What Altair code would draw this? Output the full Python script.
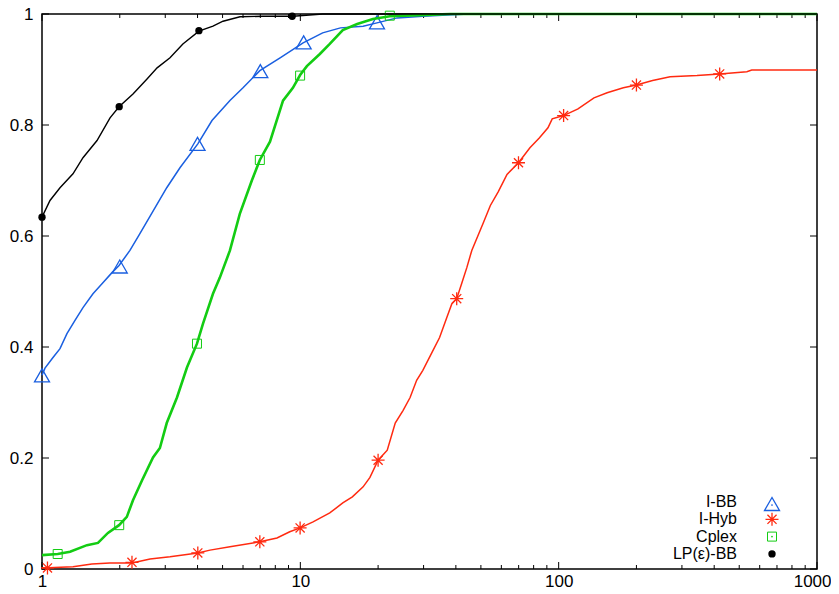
import altair as alt
import pandas as pd

# ---------------- data ----------------
ibb_x = [1.0, 1.027, 1.103, 1.174, 1.249, 1.342, 1.441, 1.575, 1.707, 1.866, 1.987, 2.19, 2.39,
         2.74, 3.04, 3.42, 4.01, 4.55, 5.34, 6.0, 6.97, 8.35, 10.25, 12.2, 14.3, 17.5, 19.8,
         23.7, 29.8, 37.0, 45.0, 1000.0]
ibb_y = [0.349, 0.362, 0.381, 0.397, 0.424, 0.448, 0.471, 0.496, 0.514, 0.534, 0.547, 0.574, 0.604,
         0.651, 0.687, 0.723, 0.766, 0.808, 0.844, 0.867, 0.898, 0.921, 0.948, 0.966, 0.975, 0.978, 0.984,
         0.993, 0.996, 0.998, 1.0, 1.0]
ibb_mx = [1.0, 2.0, 4.0, 7.0, 10.3, 19.8]
ibb_my = [0.349, 0.545, 0.766, 0.897, 0.949, 0.985]

hyb_x = [1.0, 1.318, 1.56, 1.83, 2.23, 2.62, 3.13, 4.01, 4.47, 5.34, 6.97, 8.12, 9.10, 9.98, 11.2,
         13.0, 14.6, 15.9, 17.5, 18.6, 20.0, 21.7, 23.3, 25.0, 26.6, 28.2, 29.8, 32.3, 34.6, 36.9,
         38.6, 40.3, 42.1, 44.1, 46.1, 51.1, 54.4, 58.4, 63.1, 69.9, 77.4, 84.3, 90.9, 94.4, 104.5,
         118.8, 137.0, 154.0, 178.0, 200.0, 231.0, 270.0, 343.0, 420.0, 535.0, 559.0, 1000.0]
hyb_y = [0.002, 0.004, 0.009, 0.011, 0.011, 0.018, 0.022, 0.029, 0.034, 0.040, 0.049, 0.056, 0.067,
         0.074, 0.085, 0.101, 0.119, 0.130, 0.148, 0.165, 0.196, 0.214, 0.263, 0.286, 0.309, 0.340,
         0.358, 0.390, 0.417, 0.453, 0.478, 0.487, 0.514, 0.543, 0.574, 0.624, 0.655, 0.680, 0.711,
         0.732, 0.759, 0.777, 0.795, 0.811, 0.817, 0.829, 0.849, 0.858, 0.867, 0.872, 0.880, 0.887,
         0.889, 0.892, 0.896, 0.899, 0.899]
hyb_mx = [1.05, 2.23, 4.01, 6.97, 9.98, 20.0, 40.3, 69.9, 104.5, 200.0, 420.0]
hyb_my = [0.002, 0.012, 0.029, 0.049, 0.074, 0.196, 0.487, 0.732, 0.817, 0.872, 0.892]

cpx_x = [1.0, 1.15, 1.284, 1.493, 1.647, 1.80, 1.987, 2.13, 2.25, 2.44, 2.69, 2.86, 3.04, 3.33,
         3.64, 3.98, 4.20, 4.59, 4.88, 5.34, 5.83, 6.49, 6.97, 7.63, 8.57, 9.36, 9.98, 10.6, 11.9,
         13.0, 14.6, 16.6, 19.1, 22.2, 30.9, 38.0, 1000.0]
cpx_y = [0.025, 0.027, 0.031, 0.043, 0.047, 0.065, 0.079, 0.094, 0.124, 0.160, 0.201, 0.218, 0.263,
         0.309, 0.363, 0.406, 0.442, 0.496, 0.525, 0.574, 0.640, 0.700, 0.737, 0.770, 0.844, 0.867,
         0.890, 0.906, 0.928, 0.946, 0.971, 0.982, 0.991, 0.996, 0.9985, 1.0, 1.0]
cpx_mx = [1.15, 1.99, 3.98, 6.97, 9.98, 22.2]
cpx_my = [0.027, 0.079, 0.406, 0.737, 0.889, 0.997]

lp_x = [1.0, 1.074, 1.174, 1.318, 1.441, 1.633, 1.834, 1.987, 2.25, 2.55, 2.79, 3.13, 3.51, 4.05,
        4.59, 5.02, 5.84, 7.17, 9.37, 12.2, 1000.0]
lp_y = [0.634, 0.664, 0.687, 0.712, 0.741, 0.772, 0.813, 0.833, 0.856, 0.883, 0.903, 0.921, 0.946,
        0.969, 0.978, 0.987, 0.995, 0.996, 0.996, 1.0, 1.0]
lp_mx = [1.0, 1.99, 4.05, 9.3]
lp_my = [0.634, 0.833, 0.970, 0.996]

x_major = [1, 10, 100, 1000]
x_minor = [2, 3, 4, 5, 6, 7, 8, 9, 20, 30, 40, 50, 60, 70, 80, 90,
           200, 300, 400, 500, 600, 700, 800, 900]
y_major = [0, 0.2, 0.4, 0.6, 0.8, 1.0]

names = ["I-BB", "I-Hyb", "Cplex", "LP(ε)-BB"]
colors = ["#1a5fe0", "#ff2a10", "#13cc13", "#000000"]

# ---------------- chart ----------------
W, H = 775, 555
FONT = "Liberation Sans"
STAR = "M-1,0L1,0M0,-1L0,1M-0.7,-0.7L0.7,0.7M-0.7,0.7L0.7,-0.7"

xscale = alt.Scale(type="log", domain=[1, 1000])
yscale = alt.Scale(domain=[0, 1])
xaxis = alt.Axis(
    values=x_major,
    format="~g",
    labelPadding=4,
    labelFlush=False,
    labelAlign={"condition": {"test": "datum.value >= 1000", "value": "right"}, "value": "center"},
    labelOffset={"condition": {"test": "datum.value >= 1000", "value": 14}, "value": 0},
)
yaxis = alt.Axis(values=y_major, format="~g", labelPadding=9)

X = alt.X("x:Q", scale=xscale, axis=xaxis, title=None)
Y = alt.Y("y:Q", scale=yscale, axis=yaxis, title=None)


def df(xs, ys):
    return pd.DataFrame({"x": xs, "y": ys})


layers = []

# inward ticks (gnuplot style)
xmaj = pd.DataFrame({"x": x_major})
xmin = pd.DataFrame({"x": x_minor})
ymaj = pd.DataFrame({"y": y_major})
tick_style = dict(color="black", strokeWidth=1)
layers.append(alt.Chart(xmaj).mark_rule(**tick_style).encode(x=X, y=alt.value(H), y2=alt.value(H - 7)))
layers.append(alt.Chart(xmin).mark_rule(**tick_style).encode(x=X, y=alt.value(H), y2=alt.value(H - 4)))
layers.append(alt.Chart(xmaj).mark_rule(**tick_style).encode(x=X, y=alt.value(0), y2=alt.value(7)))
layers.append(alt.Chart(xmin).mark_rule(**tick_style).encode(x=X, y=alt.value(0), y2=alt.value(4)))
layers.append(alt.Chart(ymaj).mark_rule(**tick_style).encode(y=Y, x=alt.value(0), x2=alt.value(7)))
layers.append(alt.Chart(ymaj).mark_rule(**tick_style).encode(y=Y, x=alt.value(W - 7), x2=alt.value(W)))

series = [
    (ibb_x, ibb_y, ibb_mx, ibb_my, colors[0], 1.5, dict(shape="triangle-up", size=225, filled=False, strokeWidth=1.3)),
    (hyb_x, hyb_y, hyb_mx, hyb_my, colors[1], 1.5, dict(shape=STAR, size=169, filled=False, strokeWidth=1.3)),
    (cpx_x, cpx_y, cpx_mx, cpx_my, colors[2], 2.6, dict(shape="square", size=81, filled=False, strokeWidth=1.0)),
    (lp_x, lp_y, lp_mx, lp_my, colors[3], 1.4, dict(shape="circle", size=54, filled=True, strokeWidth=0)),
]

for xs, ys, mx, my, col, lw, pt in series:
    layers.append(alt.Chart(df(xs, ys)).mark_line(color=col, strokeWidth=lw).encode(x=X, y=Y))
    layers.append(alt.Chart(df(mx, my)).mark_point(color=col, opacity=1, **pt).encode(x=X, y=Y))

# legend (bottom right, labels left of symbols)
leg_text_x = 695
leg_sym_x = 730
leg_y0 = 488
leg_dy = 17.3
for i, (name, (_, _, _, _, col, _, pt)) in enumerate(zip(names, series)):
    yy = leg_y0 + i * leg_dy
    layers.append(
        alt.Chart(pd.DataFrame({"label": [name]}))
        .mark_text(align="right", baseline="middle", font=FONT, fontSize=16, color="black")
        .encode(text="label:N", x=alt.value(leg_text_x), y=alt.value(yy))
    )
    layers.append(
        alt.Chart(pd.DataFrame({"label": [name]}))
        .mark_point(color=col, opacity=1, **pt)
        .encode(x=alt.value(leg_sym_x), y=alt.value(yy + (2 if i == 0 else 0)))
    )
    if i in (0, 2):
        layers.append(
            alt.Chart(pd.DataFrame({"label": [name]}))
            .mark_point(color=col, shape="circle", filled=True, size=3, opacity=1)
            .encode(x=alt.value(leg_sym_x), y=alt.value(yy + (3 if i == 0 else 0)))
        )

chart = (
    alt.layer(*layers)
    .properties(
        width=W,
        height=H,
        autosize=alt.AutoSizeParams(type="none"),
        padding={"left": 34, "top": 6, "right": 14, "bottom": 24},
        background="white",
    )
    .configure_view(stroke="black", strokeWidth=1.5)
    .configure_axis(
        grid=False,
        domain=False,
        ticks=False,
        tickSize=0,
        labelFont=FONT,
        labelFontSize=17,
        labelColor="black",
    )
)

chart.save("out.html", embed_options={"renderer": "svg", "actions": False})
